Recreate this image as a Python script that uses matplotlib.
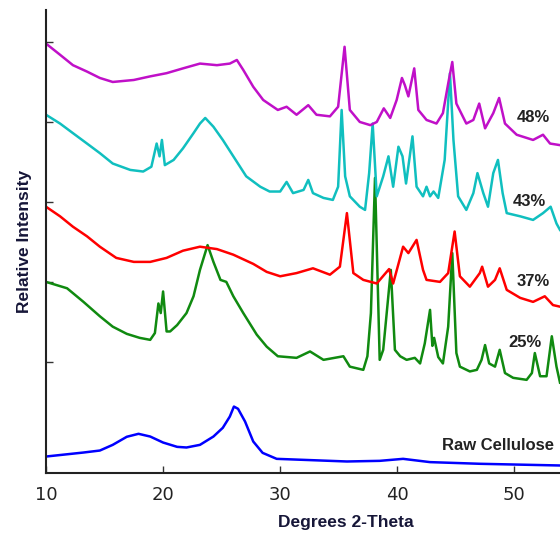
import matplotlib
matplotlib.use("Agg")
import matplotlib.pyplot as plt

# ---------------- data (2-theta in degrees, stacked relative intensity) ----------------
raw_x = [10.0, 13.2, 14.6, 15.7, 16.9, 17.9, 18.9, 20.0, 21.2, 22.0, 23.15, 24.3, 25.1,
         25.7, 26.05, 26.4, 27.0, 27.7, 28.5, 29.7, 35.7, 38.5, 40.5, 42.8, 47.1, 53.9]
raw_y = [-1.84, -1.34, -1.09, -0.38, 0.63, 1.0, 0.66, -0.09, -0.63, -0.71, -0.38, 0.66, 1.75,
         3.16, 4.41, 4.13, 2.54, 0.04, -1.38, -2.13, -2.46, -2.38, -2.13, -2.54, -2.75, -2.96]

p25_x = [10.0, 11.8, 13.2, 14.6, 15.7, 16.9, 18.0, 18.9, 19.3, 19.6, 19.8, 20.0, 20.3, 20.6,
         21.2, 22.0, 22.6, 23.15, 23.8, 24.3, 24.9, 25.4, 26.0, 26.85, 28.0, 28.85, 29.8,
         31.4, 32.55, 33.7, 35.4, 35.95, 37.1, 37.45, 37.75, 38.1, 38.5, 38.8, 39.45, 39.8,
         40.25, 40.8, 41.5, 41.95, 42.35, 42.8, 43.0, 43.15, 43.5, 43.9, 44.35, 44.7, 45.05,
         45.35, 46.2, 46.8, 47.2, 47.5, 47.85, 48.35, 48.75, 49.2, 49.9, 51.05, 51.5, 51.75,
         52.2, 52.75, 53.2, 53.6, 53.9]
p25_y = [20.0, 19.2, 17.5, 15.7, 14.4, 13.5, 13.0, 12.75, 13.6, 17.3, 16.1, 18.8, 13.8, 13.8,
         14.6, 16.1, 18.2, 21.5, 24.6, 22.5, 20.25, 20.0, 18.2, 16.1, 13.4, 11.9, 10.7,
         10.5, 11.3, 10.25, 10.7, 9.4, 9.0, 10.7, 16.1, 33.0, 10.25, 11.5, 21.5, 11.5,
         10.7, 10.25, 10.5, 9.8, 12.3, 16.5, 12.0, 13.0, 10.6, 9.8, 14.4, 23.6, 11.1,
         9.4, 8.8, 9.0, 10.25, 12.1, 9.8, 9.4, 11.5, 8.6, 8.0, 7.75, 8.6, 11.1,
         8.2, 8.2, 13.2, 9.4, 7.4]

p37_x = [10.0, 11.2, 12.3, 13.5, 14.6, 16.0, 17.5, 18.9, 20.3, 21.7, 23.15, 24.6, 26.0, 27.7,
         28.85, 30.0, 31.4, 32.8, 34.25, 35.1, 35.7, 36.25, 37.1, 38.25, 39.3, 39.65, 40.5,
         40.95, 41.65, 42.2, 42.5, 43.65, 44.35, 44.9, 45.35, 46.2, 47.05, 47.25, 47.75,
         48.35, 48.75, 49.35, 50.5, 51.6, 52.6, 53.3, 53.9]
p37_y = [29.4, 28.2, 26.9, 25.7, 24.4, 23.0, 22.5, 22.5, 23.0, 23.9, 24.4, 24.1, 23.4, 22.25,
         21.25, 20.7, 21.1, 21.7, 20.9, 21.9, 28.6, 21.1, 20.25, 19.8, 21.6, 19.8, 24.4,
         23.6, 25.25, 21.5, 20.25, 20.0, 21.1, 26.3, 20.7, 19.4, 21.1, 21.9, 19.4,
         20.25, 21.7, 19.0, 18.0, 17.5, 18.2, 17.1, 16.9]

p43_x = [10.0, 11.2, 12.3, 13.5, 14.6, 15.7, 17.2, 18.3, 19.0, 19.45, 19.7, 19.9, 20.15, 20.9,
         21.7, 22.6, 23.15, 23.6, 24.3, 25.1, 26.0, 27.1, 28.3, 29.1, 30.0, 30.55, 31.1, 32.0,
         32.4, 32.8, 33.7, 34.5, 34.95, 35.25, 35.55, 35.95, 36.8, 37.25, 37.6, 37.9, 38.25,
         38.8, 39.25, 39.65, 40.1, 40.45, 40.75, 41.3, 41.65, 42.2, 42.5, 42.8, 43.1, 43.5,
         44.05, 44.5, 44.8, 45.2, 45.9, 46.5, 46.85, 47.35, 47.75, 48.2, 48.6, 49.0, 49.35,
         50.5, 51.6, 52.45, 53.1, 53.6, 53.9]
p43_y = [40.9, 39.8, 38.6, 37.3, 36.1, 34.8, 34.0, 33.8, 34.4, 37.3, 35.7, 37.75, 34.6, 35.25,
         36.7, 38.6, 39.8, 40.5, 39.4, 37.75, 35.7, 33.2, 31.9, 31.3, 31.3, 32.5, 31.1, 31.5,
         32.75, 31.1, 30.5, 30.25, 31.9, 41.5, 33.2, 30.7, 29.4, 29.0, 33.6, 39.8, 30.7,
         33.2, 35.7, 31.9, 36.9, 35.7, 32.3, 38.2, 31.9, 30.7, 31.9, 30.7, 31.3, 30.5,
         35.25, 46.1, 37.75, 30.7, 29.0, 31.1, 33.6, 31.1, 29.4, 33.6, 35.25, 31.1, 28.6,
         28.2, 27.75, 28.6, 29.4, 27.3, 26.5]

p48_x = [10.0, 11.2, 12.3, 13.5, 14.6, 15.7, 17.5, 18.9, 20.3, 21.7, 23.15, 24.6, 25.7, 26.3,
         26.85, 27.7, 28.55, 29.8, 30.55, 31.4, 32.4, 33.1, 34.25, 34.95, 35.5, 35.95, 36.8,
         37.7, 38.25, 38.85, 39.4, 39.95, 40.4, 40.65, 40.95, 41.45, 41.8, 42.5, 43.35, 43.9,
         44.35, 44.7, 45.05, 45.9, 46.5, 47.0, 47.5, 48.2, 48.7, 49.2, 50.2, 51.6, 52.45,
         53.05, 53.9]
p48_y = [49.8, 48.4, 47.1, 46.3, 45.5, 45.0, 45.25, 45.7, 46.1, 46.7, 47.3, 47.1, 47.3, 47.75,
         46.5, 44.4, 42.75, 41.5, 41.9, 40.9, 42.1, 40.9, 40.7, 41.9, 49.4, 41.5, 40.0,
         39.6, 40.0, 41.7, 40.5, 42.75, 45.5, 44.6, 43.2, 46.7, 41.5, 40.25, 39.8, 41.1,
         44.8, 47.5, 42.3, 39.8, 40.25, 42.3, 39.2, 41.1, 43.0, 39.8, 38.4, 37.75, 38.4,
         37.3, 37.1]

series = [
    (raw_x, raw_y, "#0000FF", "Raw Cellulose"),
    (p25_x, p25_y, "#108A10", "25%"),
    (p37_x, p37_y, "#FF0000", "37%"),
    (p43_x, p43_y, "#10BFBF", "43%"),
    (p48_x, p48_y, "#C010C8", "48%"),
]

x_ticks = [10, 20, 30, 40, 50]
y_ticks = [10, 20, 30, 40, 50]

# ---------------- figure ----------------
fig = plt.figure(figsize=(5.6, 5.34), dpi=100)
ax = fig.add_axes([46 / 560, 61 / 534, 514 / 560, 463 / 534])

for xs, ys, col, name in series:
    ax.plot(xs, ys, color=col, lw=1.8, solid_joinstyle="round")

ax.set_xlim(10, 53.9)
ax.set_ylim(-3.9, 54)
ax.set_xticks(x_ticks)
ax.set_yticks(y_ticks)
ax.set_yticklabels([])
ax.tick_params(axis="both", direction="in", length=5, width=1, color="#333333")
ax.tick_params(axis="x", pad=9, labelsize=13, labelcolor="#222222")
for lab in ax.get_xticklabels():
    lab.set_fontfamily("DejaVu Sans")

for s in ("top", "right"):
    ax.spines[s].set_visible(False)
for s in ("left", "bottom"):
    ax.spines[s].set_linewidth(1.5)
    ax.spines[s].set_color("#222222")

lab_color = "#161638"
ax.set_xlabel("Degrees 2-Theta", fontsize=12.5, fontweight="bold",
              family="Liberation Sans", color=lab_color)
ax.xaxis.set_label_coords(0.584, -0.091)
ax.set_ylabel("Relative Intensity", fontsize=12.5, fontweight="bold",
              family="Liberation Sans", color=lab_color)
ax.yaxis.set_label_coords(-0.028, 0.5)

# curve labels
ann = [("48%", 50.2, 40.5), ("43%", 49.9, 30.1), ("37%", 50.2, 20.1),
       ("25%", 49.45, 12.4), ("Raw Cellulose", 43.8, -0.5)]
for txt, xx, yy in ann:
    ax.text(xx, yy, txt, fontsize=12, fontweight="bold", family="Liberation Sans",
            color="#222222", ha="left", va="center", clip_on=False)

fig.savefig("out.png", dpi=100)
